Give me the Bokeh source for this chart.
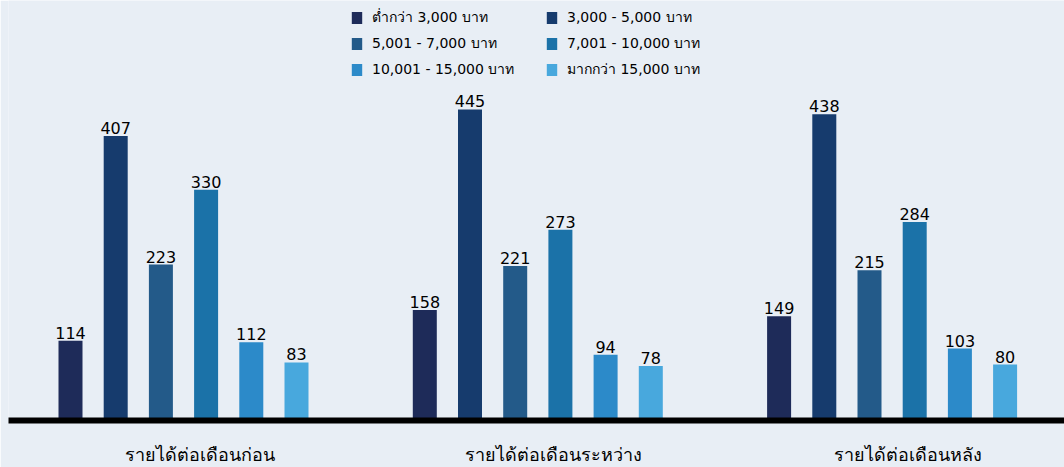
from bokeh.plotting import figure
from bokeh.models import (Range1d, Legend, LegendItem, ColumnDataSource, FixedTicker,
                          CustomJSTickFormatter)
from bokeh.core.properties import value
from bokeh.embed import file_html
from bokeh.resources import INLINE

groups = ["รายได้ต่อเดือนก่อน", "รายได้ต่อเดือนระหว่าง", "รายได้ต่อเดือนหลัง"]
series = ["ต่ำกว่า 3,000 บาท", "3,000 - 5,000 บาท", "5,001 - 7,000 บาท",
          "7,001 - 10,000 บาท", "10,001 - 15,000 บาท", "มากกว่า 15,000 บาท"]
below_3000 = [114, 158, 149]
s3000_5000 = [407, 445, 438]
s5001_7000 = [223, 221, 215]
s7001_10000 = [330, 273, 284]
s10001_15000 = [112, 94, 103]
above_15000 = [83, 78, 80]
all_values = [below_3000, s3000_5000, s5001_7000, s7001_10000, s10001_15000, above_15000]
colors = ["#1e2b59", "#163b6d", "#235a89", "#1b72a8", "#2c8ac9", "#48a8dd"]

BG = "#e8eef5"
FONT = "DejaVu Sans"
W, H = 1064, 467
LEFT, BOTTOM = 8, 47
GROUP_PX = 354.3          # pixels per group unit
BAR_STEP = 45.2 / GROUP_PX
BAR_W = 24 / GROUP_PX
LABEL_SHIFT = 16 / GROUP_PX
x_start = -(183 - LEFT) / GROUP_PX
x_end = x_start + (W - LEFT) / GROUP_PX
y_end = (H - BOTTOM) / 0.699

p = figure(width=W, height=H, x_range=Range1d(x_start, x_end), y_range=Range1d(0, y_end),
           output_backend="svg", toolbar_location=None,
           min_border_left=LEFT, min_border_right=0, min_border_top=0,
           min_border_bottom=BOTTOM)
p.background_fill_color = BG
p.border_fill_color = BG
p.outline_line_color = None
p.grid.visible = False
p.yaxis.visible = False

xa = p.xaxis[0]
xa.ticker = FixedTicker(ticks=[gi + LABEL_SHIFT for gi in range(len(groups))])
xa.formatter = CustomJSTickFormatter(args=dict(names=groups),
                                     code="return names[Math.round(tick)];")
xa.axis_line_width = 6
xa.axis_line_color = "black"
xa.major_tick_line_color = None
xa.minor_tick_line_color = None
xa.major_tick_in = 0
xa.major_tick_out = 0
xa.minor_tick_in = 0
xa.minor_tick_out = 0
xa.major_label_standoff = 23
xa.major_label_text_font_size = "18px"
xa.major_label_text_color = "black"
xa.major_label_text_font = FONT

renderers = []
n = len(series)
for si, (s, vals, c) in enumerate(zip(series, all_values, colors)):
    xs = [gi + (si - (n - 1) / 2) * BAR_STEP for gi in range(len(groups))]
    src = ColumnDataSource(dict(x=xs, top=vals, lab=[str(v) for v in vals]))
    r = p.vbar(x="x", top="top", width=BAR_W, source=src, fill_color=c, line_color=None)
    p.text(x="x", y="top", text="lab", source=src, text_align="center",
           text_baseline="bottom", y_offset=-2, text_font=value(FONT),
           text_font_size="16px", text_color="black")
    renderers.append((s, r))

def make_legend(items, x):
    lg = Legend(items=[LegendItem(label=s, renderers=[r]) for s, r in items],
                location=(x, 340), orientation="vertical",
                glyph_width=13, glyph_height=15, label_height=20, spacing=4,
                padding=0, margin=0, label_standoff=9,
                label_text_font=FONT, label_text_font_size="14px",
                label_text_color="black",
                background_fill_alpha=0, border_line_color=None)
    p.add_layout(lg)

make_legend(renderers[0::2], 350 - LEFT)
make_legend(renderers[1::2], 545 - LEFT)

open("out.html", "w").write(file_html(p, INLINE))
